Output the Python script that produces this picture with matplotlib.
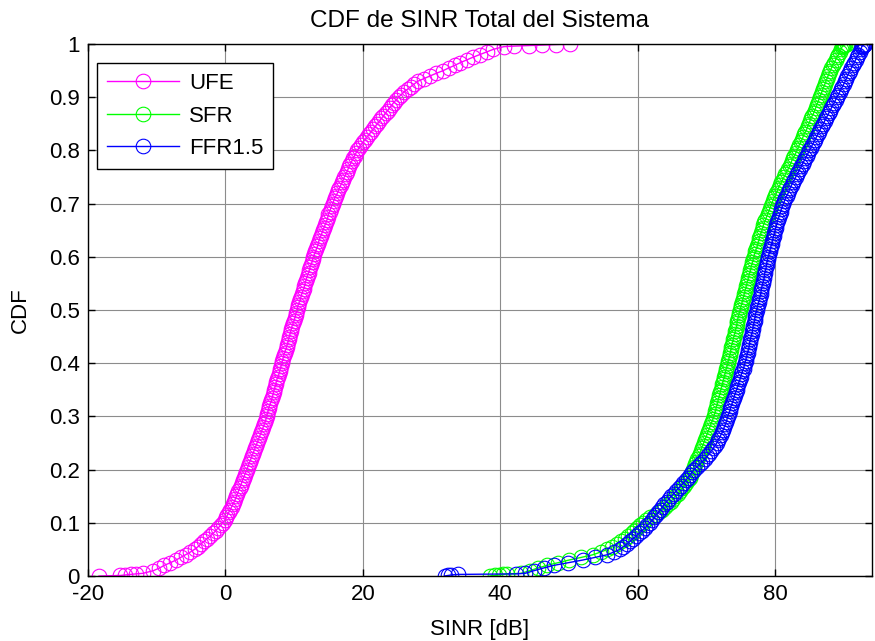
import matplotlib
matplotlib.use("Agg")
import matplotlib.pyplot as plt

plt.rcParams['font.family'] = ['Liberation Sans', 'DejaVu Sans']

# Probability levels of the empirical CDF (shared by the three series)
cdf_levels = ([0.0, 0.001, 0.002, 0.003, 0.004]
              + [round(0.005 * k, 3) for k in range(1, 200)]
              + [0.996, 0.997, 0.998, 0.999, 1.0])

series_names = ["UFE", "SFR", "FFR1.5"]

# SINR [dB] at each CDF level
ufe_sinr = [
    -18.4, -15.3, -14.6, -13.8, -13.0,
    -12.0, -10.5, -9.6, -8.9, -8.0, -7.2, -6.5, -5.8, -5.1, -4.5,
    -4.0, -3.6, -3.1, -2.7, -2.2, -1.8, -1.4, -1.1, -0.7, -0.4,
    -0.1, 0.1, 0.3, 0.5, 0.7, 0.9, 1.1, 1.3, 1.45, 1.6,
    1.75, 1.9, 2.05, 2.2, 2.35, 2.5, 2.65, 2.8, 2.95, 3.1,
    3.25, 3.4, 3.55, 3.7, 3.85, 4.0, 4.15, 4.3, 4.45, 4.6,
    4.75, 4.9, 5.05, 5.2, 5.35, 5.5, 5.65, 5.8, 5.9, 6.0,
    6.1, 6.2, 6.3, 6.4, 6.55, 6.7, 6.8, 6.9, 7.0, 7.1,
    7.2, 7.3, 7.4, 7.5, 7.65, 7.8, 7.9, 8.0, 8.1, 8.2,
    8.3, 8.4, 8.5, 8.6, 8.75, 8.9, 9.0, 9.1, 9.2, 9.3,
    9.4, 9.5, 9.6, 9.7, 9.85, 10.0, 10.1, 10.2, 10.3, 10.4,
    10.5, 10.6, 10.75, 10.9, 11.0, 11.1, 11.25, 11.4, 11.5, 11.6,
    11.7, 11.8, 11.95, 12.1, 12.2, 12.3, 12.45, 12.6, 12.7, 12.8,
    12.95, 13.1, 13.25, 13.4, 13.5, 13.6, 13.75, 13.9, 14.05, 14.2,
    14.35, 14.5, 14.65, 14.8, 14.9, 15.0, 15.15, 15.3, 15.45, 15.6,
    15.75, 15.9, 16.1, 16.3, 16.45, 16.6, 16.8, 17.0, 17.15, 17.3,
    17.5, 17.7, 17.85, 18.0, 18.2, 18.4, 18.6, 18.8, 19.0, 19.2,
    19.45, 19.7, 20.0, 20.3, 20.6, 20.9, 21.2, 21.5, 21.8, 22.1,
    22.4, 22.7, 23.0, 23.3, 23.6, 23.9, 24.2, 24.5, 24.85, 25.2,
    25.6, 26.0, 26.5, 27.0, 27.5, 28.0, 28.9, 29.8, 30.7, 31.7,
    32.5, 33.4, 34.2, 35.1, 36.0, 37.0, 38.0, 39.0, 40.5,
    42.0, 44.2, 46.1, 48.1, 50.1,
]

sfr_sinr = [
    38.5, 39.2, 39.8, 40.4, 41.0,
    43.0, 44.3, 45.5, 46.8, 48.4, 50.0, 51.8, 53.5, 54.6, 55.6,
    56.3, 57.0, 57.6, 58.1, 58.6, 59.1, 59.5, 59.9, 60.3, 60.7,
    61.2, 61.8, 62.5, 63.1, 63.6, 64.0, 64.4, 64.8, 65.15, 65.5,
    65.85, 66.2, 66.5, 66.8, 67.05, 67.3, 67.55, 67.8, 67.95, 68.1,
    68.25, 68.4, 68.55, 68.7, 68.85, 69.0, 69.15, 69.3, 69.45, 69.6,
    69.75, 69.9, 70.05, 70.2, 70.35, 70.5, 70.65, 70.8, 70.95, 71.1,
    71.2, 71.3, 71.4, 71.5, 71.6, 71.7, 71.8, 71.9, 72.0, 72.1,
    72.2, 72.3, 72.4, 72.5, 72.6, 72.7, 72.8, 72.9, 73.0, 73.1,
    73.2, 73.3, 73.4, 73.5, 73.55, 73.6, 73.7, 73.8, 73.9, 74.0,
    74.1, 74.2, 74.3, 74.4, 74.45, 74.5, 74.6, 74.7, 74.8, 74.9,
    75.0, 75.1, 75.2, 75.3, 75.4, 75.5, 75.6, 75.7, 75.8, 75.9,
    76.0, 76.1, 76.2, 76.3, 76.4, 76.5, 76.6, 76.7, 76.8, 76.9,
    77.0, 77.1, 77.25, 77.4, 77.5, 77.6, 77.7, 77.8, 77.95, 78.1,
    78.2, 78.3, 78.45, 78.6, 78.75, 78.9, 79.05, 79.2, 79.35, 79.5,
    79.65, 79.8, 80.0, 80.2, 80.35, 80.5, 80.7, 80.9, 81.1, 81.3,
    81.5, 81.7, 81.9, 82.1, 82.25, 82.4, 82.6, 82.8, 83.0, 83.2,
    83.35, 83.5, 83.7, 83.9, 84.05, 84.2, 84.4, 84.6, 84.75, 84.9,
    85.05, 85.2, 85.4, 85.6, 85.75, 85.9, 86.05, 86.2, 86.35, 86.5,
    86.65, 86.8, 86.95, 87.1, 87.25, 87.4, 87.55, 87.7, 87.85, 88.0,
    88.2, 88.4, 88.6, 88.8, 89.0, 89.2, 89.4, 89.6, 89.75,
    89.85, 89.95, 90.05, 90.2, 90.4,
]

ffr_sinr = [
    31.9, 32.4, 32.9, 33.9, 42.3,
    43.6, 44.9, 46.3, 47.8, 49.9, 52.0, 53.8, 55.6, 56.5, 57.4,
    57.9, 58.4, 58.85, 59.3, 59.75, 60.2, 60.6, 61.0, 61.4, 61.8,
    62.1, 62.4, 62.7, 63.0, 63.3, 63.6, 63.9, 64.2, 64.55, 64.9,
    65.25, 65.6, 65.95, 66.3, 66.65, 67.0, 67.3, 67.6, 67.9, 68.2,
    68.6, 69.0, 69.4, 69.8, 70.1, 70.4, 70.7, 71.0, 71.25, 71.5,
    71.7, 71.9, 72.1, 72.3, 72.45, 72.6, 72.75, 72.9, 73.0, 73.1,
    73.25, 73.4, 73.5, 73.6, 73.75, 73.9, 74.0, 74.1, 74.25, 74.4,
    74.5, 74.6, 74.75, 74.9, 75.0, 75.1, 75.25, 75.4, 75.5, 75.6,
    75.7, 75.8, 75.9, 76.0, 76.1, 76.2, 76.25, 76.3, 76.4, 76.5,
    76.6, 76.7, 76.75, 76.8, 76.9, 77.0, 77.05, 77.1, 77.2, 77.3,
    77.4, 77.5, 77.6, 77.7, 77.8, 77.9, 77.95, 78.0, 78.1, 78.2,
    78.3, 78.4, 78.45, 78.5, 78.6, 78.7, 78.75, 78.8, 78.9, 79.0,
    79.1, 79.2, 79.3, 79.4, 79.5, 79.6, 79.7, 79.8, 79.9, 80.0,
    80.1, 80.2, 80.3, 80.4, 80.55, 80.7, 80.8, 80.9, 81.05, 81.2,
    81.35, 81.5, 81.7, 81.9, 82.05, 82.2, 82.4, 82.6, 82.8, 83.0,
    83.2, 83.4, 83.6, 83.8, 84.0, 84.2, 84.4, 84.6, 84.8, 85.0,
    85.2, 85.4, 85.6, 85.8, 86.0, 86.2, 86.4, 86.6, 86.8, 87.0,
    87.2, 87.4, 87.6, 87.8, 88.0, 88.2, 88.4, 88.6, 88.8, 89.0,
    89.2, 89.4, 89.6, 89.8, 90.0, 90.2, 90.35, 90.5, 90.7, 90.9,
    91.1, 91.3, 91.5, 91.7, 91.9, 92.1, 92.3, 92.5, 92.6,
    92.7, 92.8, 92.9, 93.0, 93.1,
]

colors = ["#ff00ff", "#00ff00", "#0000ff"]

x_ticks = [-20, 0, 20, 40, 60, 80]
y_ticks = [0, 0.1, 0.2, 0.3, 0.4, 0.5, 0.6, 0.7, 0.8, 0.9, 1]
y_ticklabels = ["0", "0.1", "0.2", "0.3", "0.4", "0.5", "0.6", "0.7", "0.8", "0.9", "1"]

FS = 16

fig = plt.figure(figsize=(8.75, 6.41), dpi=100)
ax = fig.add_axes([88 / 875, (641 - 576) / 641, (872 - 88) / 875, (576 - 44) / 641])

for name, xs, c in zip(series_names, [ufe_sinr, sfr_sinr, ffr_sinr], colors):
    ax.plot(xs, cdf_levels, color=c, lw=1.0, marker='o', markersize=10.5,
            markerfacecolor='none', markeredgecolor=c, markeredgewidth=0.8,
            label=name)

ax.set_xlim(-20, 94.1)
ax.set_ylim(0, 1)
ax.set_xticks(x_ticks)
ax.set_xticklabels([str(t) for t in x_ticks])
ax.set_yticks(y_ticks)
ax.set_yticklabels(y_ticklabels)

ax.grid(True, color='#8c8c8c', linewidth=0.8, linestyle='-')
ax.set_axisbelow(True)
ax.tick_params(direction='in', length=5, width=1, top=True, right=True,
               labelsize=FS, pad=6, colors='black')
for sp in ax.spines.values():
    sp.set_linewidth(1.0)
    sp.set_color('black')

ax.set_title("CDF de SINR Total del Sistema", fontsize=17.5, pad=12)
ax.set_xlabel("SINR [dB]", fontsize=FS, labelpad=10)
ax.set_ylabel("CDF", fontsize=FS, labelpad=13)

leg = ax.legend(loc='upper left', bbox_to_anchor=(0.011, 0.964), borderaxespad=0,
                fontsize=FS, frameon=True, fancybox=False, edgecolor='black',
                handlelength=3.25, handletextpad=0.45, labelspacing=0.52,
                borderpad=0.45)
leg.get_frame().set_linewidth(1.0)
leg.get_frame().set_alpha(1)

fig.savefig("out.png", dpi=100)
